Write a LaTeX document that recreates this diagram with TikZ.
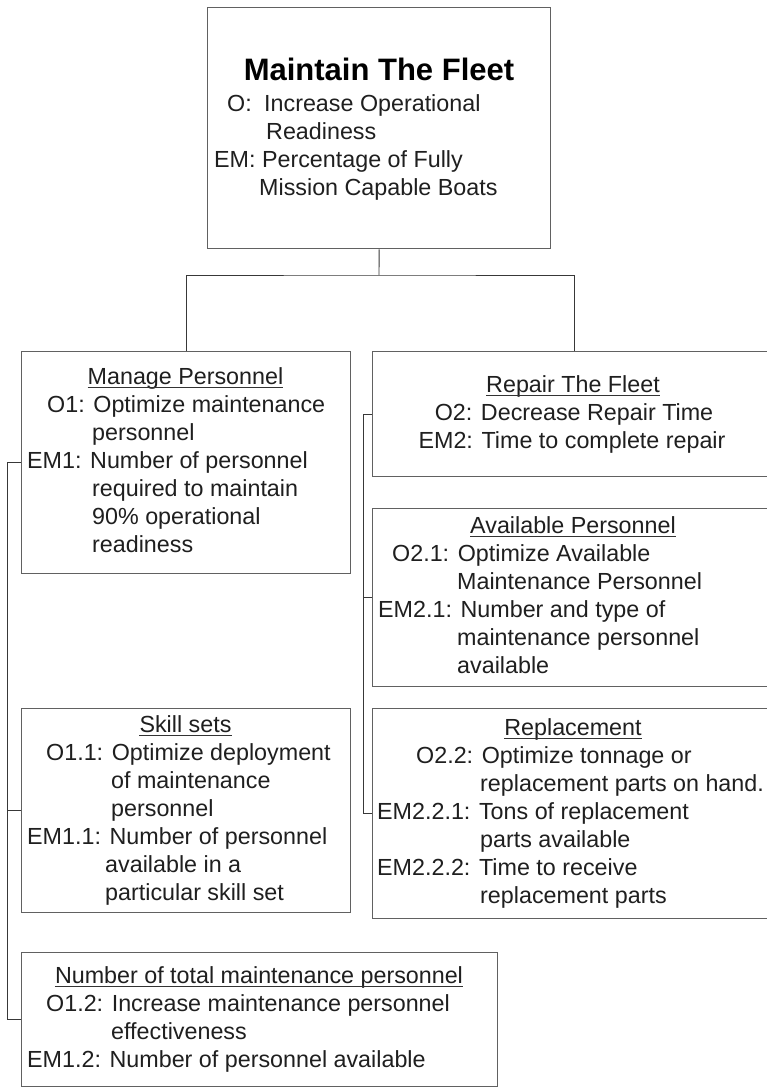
\documentclass[tikz,border=0pt]{standalone}
\usepackage{fontspec}
\setmainfont{Liberation Sans}
\usetikzlibrary{calc}
\tikzset{
  box/.style={draw=black!62, line width=1.3pt, rectangle, inner sep=0pt, anchor=north west},
  conn/.style={draw=black!78, line width=0.9pt},
  txt/.style={anchor=base west, inner sep=0pt, text=black!88, font=\fontsize{23.3}{28}\selectfont},
  ttl/.style={anchor=base, inner sep=0pt, text=black!88, font=\fontsize{23.3}{28}\selectfont},
  bigttl/.style={anchor=base, inner sep=0pt, text=black, font=\fontsize{31}{36}\selectfont\bfseries},
  ul/.style={draw=black!80, line width=1.2pt}
}
\begin{document}
\begin{tikzpicture}[x=1pt, y=-1pt]
\useasboundingbox (0,0) rectangle (767,1087);
\clip (0,0) rectangle (767,1087);
\fill[white] (0,0) rectangle (767,1087);

% boxes
\node[box, minimum width=343pt, minimum height=241pt] (top) at (207,7) {};
\node[box, minimum width=329pt, minimum height=222pt] (manage) at (21,351) {};
\node[box, minimum width=329pt, minimum height=204pt] (skill) at (21,708) {};
\node[box, minimum width=476pt, minimum height=134pt] (total) at (21,952) {};
\node[box, minimum width=403pt, minimum height=125pt] (repair) at (372,351) {};
\node[box, minimum width=403pt, minimum height=178pt] (avail) at (372,508) {};
\node[box, minimum width=403pt, minimum height=210pt] (repl) at (372,708) {};

% connectors
\coordinate (j) at (379,275);
\draw[conn] (top.south) -- (j);
\draw[conn] (manage.north) |- (j) -| (repair.north);
\draw[conn] (manage.west) -| ($(total.west)+(-14,0)$) -- (total.west);
\draw[conn] (skill.west) -- ++(-14,0);
\draw[conn] (repair.west) -| ($(repl.west)+(-9,0)$) -- (repl.west);
\draw[conn] (avail.west) -- ++(-9,0);

% top box text
\node[bigttl] (tT) at (379,80) {Maintain The Fleet};
\node[txt] (tA) at (227,111) {O:};
\node[txt] (tB) at (264,111) {Increase Operational};
\node[txt] (tC) at (266,139) {Readiness};
\node[txt] (tD) at (214,167) {EM: Percentage of Fully};
\node[txt] (tE) at (259,195) {Mission Capable Boats};

% manage personnel
\node[ttl] (mT) at (185.5,384) {Manage Personnel};
\draw[ul] ([yshift=-3.5pt]mT.base west) -- ([yshift=-3.5pt]mT.base east);
\node[txt] (mA) at (47,412) {O1: Optimize maintenance};
\node[txt] (mB) at (92,440) {personnel};
\node[txt] (mC) at (27,468) {EM1: Number of personnel};
\node[txt] (mD) at (92,496) {required to maintain};
\node[txt] (mE) at (92,524) {90\% operational};
\node[txt] (mF) at (92,552) {readiness};

% skill sets
\node[ttl] (sT) at (185.5,732) {Skill sets};
\draw[ul] ([yshift=-3.5pt]sT.base west) -- ([yshift=-3.5pt]sT.base east);
\node[txt] (sA) at (46,760) {O1.1: Optimize deployment};
\node[txt] (sB) at (111,788) {of maintenance};
\node[txt] (sC) at (111,816) {personnel};
\node[txt] (sD) at (27,844) {EM1.1: Number of personnel};
\node[txt] (sE) at (105,872) {available in a};
\node[txt] (sF) at (105,900) {particular skill set};

% total personnel
\node[ttl] (nT) at (259,983) {Number of total maintenance personnel};
\draw[ul] ([yshift=-3.5pt]nT.base west) -- ([yshift=-3.5pt]nT.base east);
\node[txt] (nA) at (46,1011) {O1.2: Increase maintenance personnel};
\node[txt] (nB) at (111,1039) {effectiveness};
\node[txt] (nC) at (27,1067) {EM1.2: Number of personnel available};

% repair the fleet
\node[ttl] (rT) at (573,392) {Repair The Fleet};
\draw[ul] ([yshift=-3.5pt]rT.base west) -- ([yshift=-3.5pt]rT.base east);
\node[ttl] (rA) at (574,420) {O2: Decrease Repair Time};
\node[ttl] (rB) at (572,448) {EM2: Time to complete repair};

% available personnel
\node[ttl] (aT) at (573,533) {Available Personnel};
\draw[ul] ([yshift=-3.5pt]aT.base west) -- ([yshift=-3.5pt]aT.base east);
\node[txt] (aA) at (392,561) {O2.1: Optimize Available};
\node[txt] (aB) at (457,589) {Maintenance Personnel};
\node[txt] (aC) at (378,617) {EM2.1: Number and type of};
\node[txt] (aD) at (457,645) {maintenance personnel};
\node[txt] (aE) at (457,673) {available};

% replacement
\node[ttl] (pT) at (573,735) {Replacement};
\draw[ul] ([yshift=-3.5pt]pT.base west) -- ([yshift=-3.5pt]pT.base east);
\node[txt] (pA) at (416,763) {O2.2: Optimize tonnage or};
\node[txt] (pB) at (480,791) {replacement parts on hand.};
\node[txt] (pC) at (377,819) {EM2.2.1: Tons of replacement};
\node[txt] (pD) at (480,847) {parts available};
\node[txt] (pE) at (377,875) {EM2.2.2: Time to receive};
\node[txt] (pF) at (480,903) {replacement parts};
\end{tikzpicture}
\end{document}
